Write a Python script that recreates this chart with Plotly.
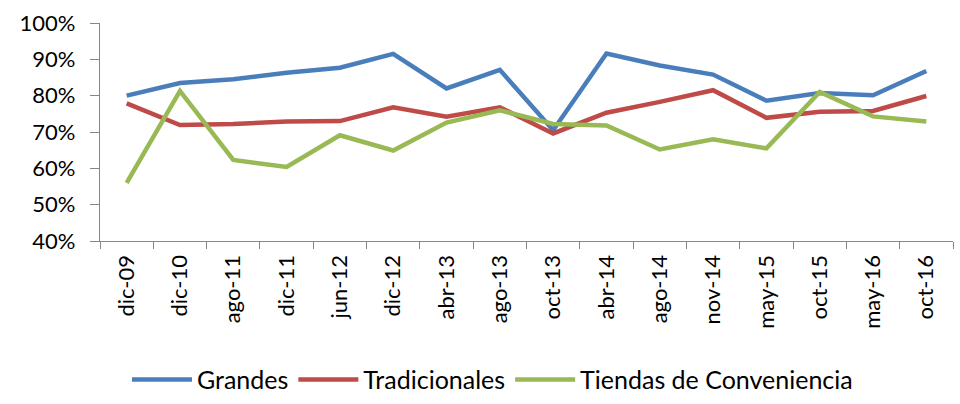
import plotly.graph_objects as go

categories = ["dic-09", "dic-10", "ago-11", "dic-11", "jun-12", "dic-12", "abr-13", "ago-13",
              "oct-13", "abr-14", "ago-14", "nov-14", "may-15", "oct-15", "may-16", "oct-16"]
grandes = [0.800, 0.835, 0.845, 0.863, 0.877, 0.915, 0.820, 0.871,
           0.705, 0.916, 0.883, 0.858, 0.786, 0.807, 0.801, 0.868]
tradicionales = [0.779, 0.719, 0.722, 0.729, 0.730, 0.768, 0.742, 0.768,
                 0.696, 0.753, 0.783, 0.815, 0.739, 0.756, 0.758, 0.799]
tiendas = [0.560, 0.813, 0.623, 0.604, 0.691, 0.649, 0.726, 0.760,
           0.722, 0.718, 0.652, 0.680, 0.655, 0.810, 0.743, 0.729]

series = [("Grandes", grandes, "#4A7EBB"),
          ("Tradicionales", tradicionales, "#BE4B48"),
          ("Tiendas de Conveniencia", tiendas, "#98B954")]

fig = go.Figure()
for name, vals, color in series:
    fig.add_trace(go.Scatter(x=categories, y=vals, name=name, mode="lines",
                             line=dict(color=color, width=4.5)))

fam = "Lato, Carlito, Calibri, sans-serif"
font = dict(family=fam, size=22, color="#000000")
fig.update_layout(
    width=960, height=404,
    margin=dict(l=100, r=7, t=23, b=163, autoexpand=False),
    paper_bgcolor="white", plot_bgcolor="white",
    font=font,
    showlegend=True,
    legend=dict(orientation="h", xref="container", yref="container",
                x=0.513, xanchor="center", y=0.06, yanchor="middle",
                font=dict(family=fam, size=25, color="#000000"),
                itemwidth=60, tracegroupgap=0),
)
fig.update_xaxes(type="category", range=[-0.5, 15.5], tickangle=-90,
                 showline=True, linecolor="#868686", linewidth=1.3,
                 ticks="outside", tickson="boundaries", ticklen=7, tickcolor="#868686",
                 showgrid=False, zeroline=False, tickfont=font, ticklabelstandoff=4,
                 automargin=False)
fig.update_yaxes(range=[0.4, 1.0], dtick=0.1, tickformat=".0%",
                 showline=True, linecolor="#868686", linewidth=1.3,
                 ticks="outside", ticklen=9, tickcolor="#868686",
                 showgrid=False, zeroline=False, tickfont=font, ticklabelstandoff=10,
                 automargin=False)

fig.write_html("out.html", config={"displayModeBar": False},
               post_script="document.body.style.margin='0';document.body.style.padding='0';")
